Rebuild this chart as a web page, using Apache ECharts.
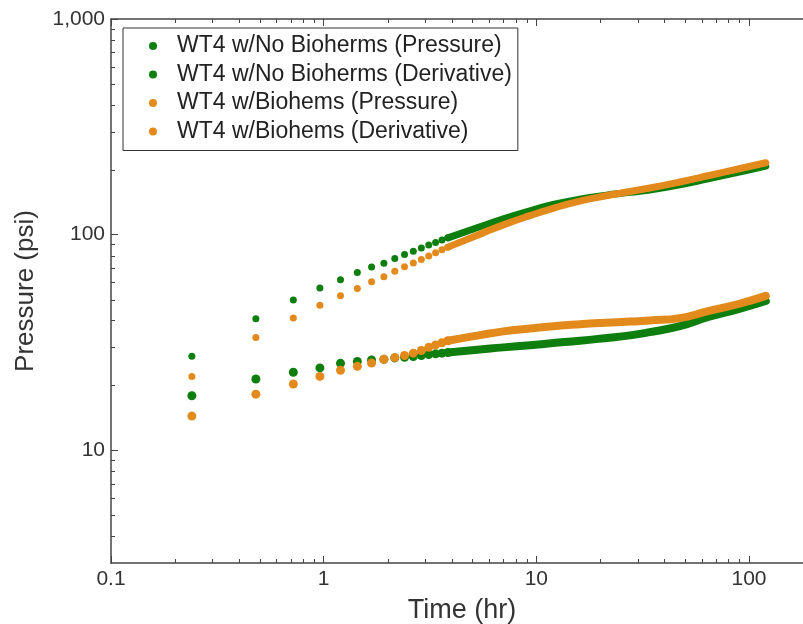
<!DOCTYPE html>
<html>
<head>
<meta charset="utf-8">
<title>WT4 pressure / derivative</title>
<script src="https://cdn.jsdelivr.net/npm/echarts@6/dist/echarts.min.js"></script>
<style>
  html, body { margin: 0; padding: 0; background: #fff; }
  #chart { width: 803px; height: 624px; }
</style>
</head>
<body>
<div id="chart"></div>
<script>
// sparse early-time points (hr)
const earlyHours = [0.24, 0.48, 0.72, 0.96, 1.2, 1.44, 1.68, 1.92, 2.16, 2.4, 2.64, 2.88, 3.12, 3.36, 3.6, 3.84]
const noBioPressEarly = [27.3, 40.7, 49.8, 56.5, 61.7, 66.8, 70.7, 73.7, 77.5, 80.8, 83.8, 86.7, 89.5, 92.0, 94.4, 96.6]
const noBioDerivEarly = [17.9, 21.4, 23.0, 24.1, 25.3, 25.8, 26.2, 26.4, 26.8, 27.0, 27.2, 27.5, 27.8, 28.0, 28.2, 28.4]
const bioPressEarly = [22.0, 33.3, 41.1, 47.1, 52.0, 56.3, 60.4, 63.7, 67.7, 70.9, 73.9, 76.7, 79.6, 82.4, 85.0, 87.5]
const bioDerivEarly = [14.4, 18.2, 20.3, 22.0, 23.5, 24.5, 25.4, 26.4, 26.9, 27.5, 28.2, 29.0, 30.0, 30.8, 31.5, 32.2]

// dense late-time points, where the dots merge into a band
const lateHours = [3.84, 5.43, 7, 9.33, 12, 16, 21, 27.6, 34.2, 47.3, 65, 90, 120]
const noBioPressLate = [96.6, 108.7, 118.5, 129, 138, 146, 152, 157, 161, 170, 182, 195, 208]
const noBioDerivLate = [28.4, 29.3, 30.0, 30.7, 31.4, 32.2, 33.1, 34.1, 35.3, 37.6, 41.6, 45.3, 49.3]
const bioPressLate = [87.5, 100.5, 111, 122.5, 132.5, 143, 151, 158.5, 164.5, 175.5, 188, 202, 215.4]
const bioDerivLate = [32.2, 34.2, 35.6, 36.7, 37.6, 38.4, 39.0, 39.5, 40.0, 41.0, 44.3, 47.8, 52.0]

const xMinorTicks = [0.2, 0.3, 0.4, 0.5, 0.6, 0.7, 0.8, 0.9, 2, 3, 4, 5, 6, 7, 8, 9, 20, 30, 40, 50, 60, 70, 80, 90]
const yMinorTicks = [4, 5, 6, 7, 8, 9, 20, 30, 40, 50, 60, 70, 80, 90, 200, 300, 400, 500, 600, 700, 800, 900]

const GREEN = '#0e7e0e'
const ORANGE = '#e38a1c'
const AXIS = '#444'
const FONT = 'Arial, "Liberation Sans", sans-serif'

const names = [
  'WT4 w/No Bioherms (Pressure)',
  'WT4 w/No Bioherms (Derivative)',
  'WT4 w/Biohems (Pressure)',
  'WT4 w/Biohems (Derivative)'
]

function zip(xs, ys) {
  return xs.map((x, i) => [x, ys[i]])
}

function dots(name, color, size, xs, ys) {
  return {
    name: name,
    type: 'scatter',
    symbol: 'circle',
    symbolSize: size,
    itemStyle: { color: color, opacity: 1 },
    data: zip(xs, ys)
  }
}

function band(name, color, width, xs, ys) {
  return {
    name: name,
    type: 'line',
    symbol: 'none',
    smooth: true,
    lineStyle: { color: color, width: width, cap: 'round', join: 'round' },
    itemStyle: { color: color, opacity: 1 },
    data: zip(xs, ys)
  }
}

function tickLine(x1, y1, x2, y2) {
  return { type: 'line', shape: { x1, y1, x2, y2 }, style: { stroke: AXIS, lineWidth: 1 } }
}

const chart = echarts.init(document.getElementById('chart'))

const option = {
  animation: false,
  backgroundColor: '#fff',
  grid: { left: 111, right: -10, top: 19, bottom: 61, outerBoundsMode: 'none' },
  legend: {
    orient: 'vertical',
    left: 123,
    top: 28,
    data: names,
    icon: 'circle',
    itemWidth: 38,
    itemHeight: 8,
    itemGap: 4.5,
    padding: [6, 6, 7, 26],
    borderColor: '#333',
    borderWidth: 1,
    selectedMode: false,
    textStyle: { fontFamily: FONT, fontSize: 23, color: '#222', lineHeight: 24 }
  },
  xAxis: [{
    type: 'log',
    logBase: 10,
    min: 0.1,
    max: 200,
    name: 'Time (hr)',
    nameLocation: 'middle',
    nameGap: 34,
    nameTextStyle: { fontFamily: FONT, fontSize: 27, color: '#333' },
    axisLine: { lineStyle: { color: AXIS, width: 1.5 } },
    axisTick: { inside: true, length: 7, lineStyle: { color: AXIS } },
    axisLabel: {
      fontFamily: FONT, fontSize: 21, color: '#333', margin: 6,
      showMaxLabel: false,
      formatter: v => String(v)
    },
    splitLine: { show: false }
  }, {
    type: 'log',
    logBase: 10,
    min: 0.1,
    max: 200,
    position: 'top',
    axisLine: { lineStyle: { color: AXIS, width: 1.5 } },
    axisTick: { inside: true, length: 7, lineStyle: { color: AXIS } },
    axisLabel: { show: false },
    splitLine: { show: false }
  }],
  yAxis: {
    type: 'log',
    logBase: 10,
    min: 3,
    max: 1000,
    name: 'Pressure (psi)',
    nameLocation: 'middle',
    nameGap: 72,
    nameTextStyle: { fontFamily: FONT, fontSize: 26, color: '#333' },
    axisLine: { lineStyle: { color: AXIS, width: 1.5 } },
    axisTick: { inside: true, length: 7, lineStyle: { color: AXIS } },
    axisLabel: {
      fontFamily: FONT, fontSize: 21, color: '#333', margin: 6,
      showMinLabel: false,
      formatter: v => Number(v).toLocaleString('en-US')
    },
    splitLine: { show: false }
  },
  series: [
    // minor ticks, drawn by hand because a log axis spaces its own minor ticks evenly
    {
      type: 'custom',
      silent: true,
      z: 5,
      data: xMinorTicks.map(v => [v, 10]),
      renderItem(params, api) {
        const cs = params.coordSys
        const x = Math.round(api.coord([api.value(0), 10])[0]) + 0.5
        const bottom = cs.y + cs.height
        return {
          type: 'group',
          children: [
            tickLine(x, bottom, x, bottom - 4),
            tickLine(x, cs.y, x, cs.y + 4)
          ]
        }
      }
    },
    {
      type: 'custom',
      silent: true,
      z: 5,
      data: yMinorTicks.map(v => [1, v]),
      renderItem(params, api) {
        const cs = params.coordSys
        const y = Math.round(api.coord([1, api.value(1)])[1]) + 0.5
        return tickLine(cs.x, y, cs.x + 4, y)
      }
    },
    dots(names[0], GREEN, 7, earlyHours, noBioPressEarly),
    band(names[0], GREEN, 7, lateHours, noBioPressLate),
    dots(names[1], GREEN, 9, earlyHours, noBioDerivEarly),
    band(names[1], GREEN, 8, lateHours, noBioDerivLate),
    dots(names[2], ORANGE, 7, earlyHours, bioPressEarly),
    band(names[2], ORANGE, 7, lateHours, bioPressLate),
    dots(names[3], ORANGE, 9, earlyHours, bioDerivEarly),
    band(names[3], ORANGE, 8, lateHours, bioDerivLate)
  ]
}

chart.setOption(option)
</script>
</body>
</html>
